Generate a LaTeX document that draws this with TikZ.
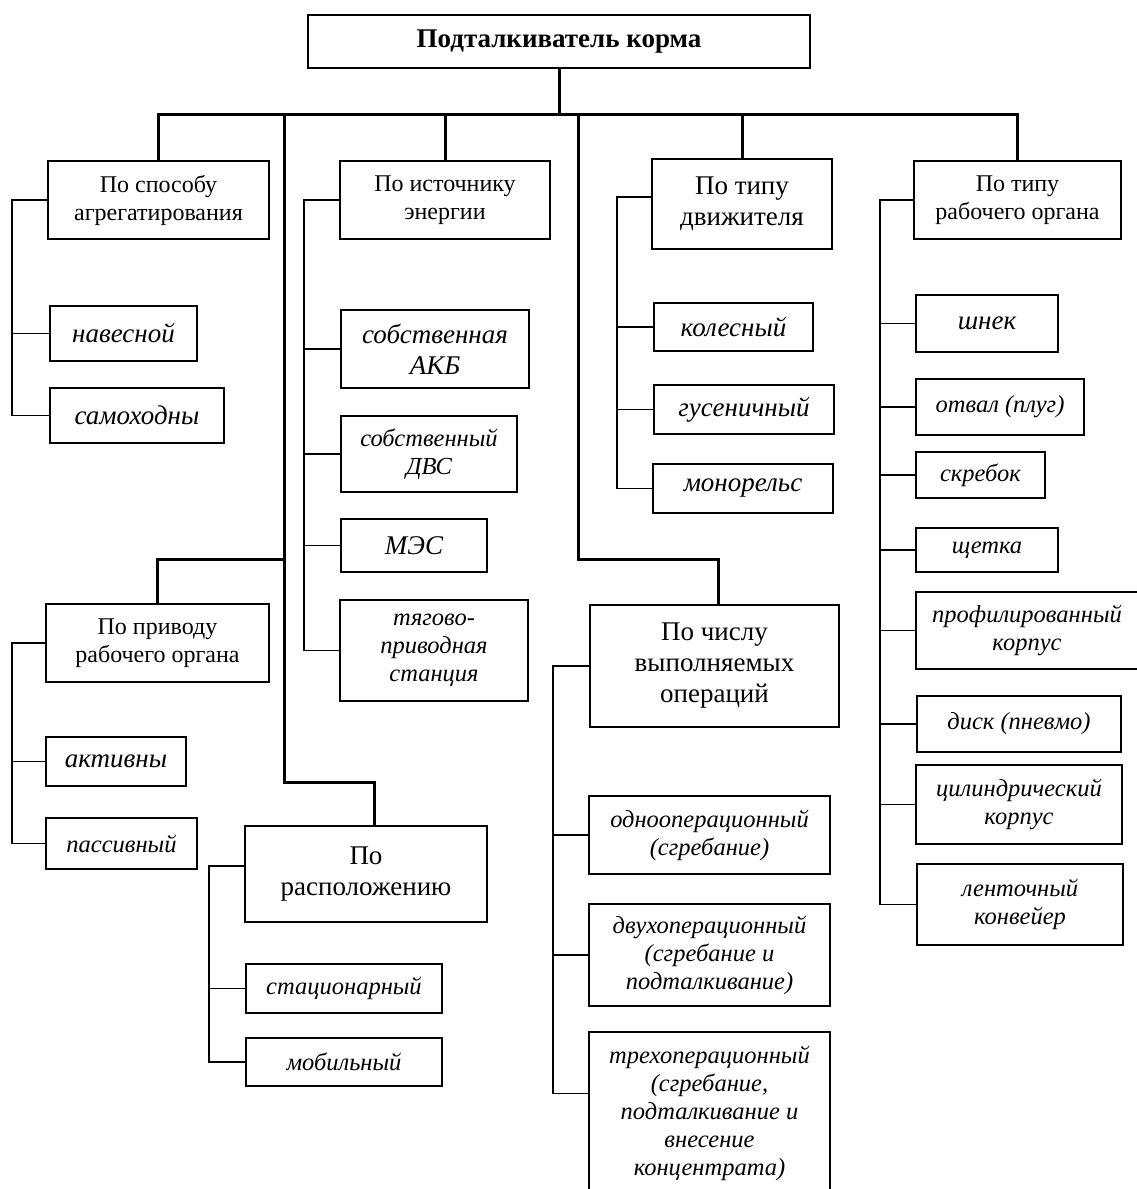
\documentclass[tikz,border=0pt]{standalone}
\usepackage{fontspec}
\setmainfont{Liberation Serif}
\begin{document}
\begin{tikzpicture}[x=1pt,y=-1pt,
  sz/.style 2 args={minimum width=#1pt, minimum height=#2pt},
  box/.style={draw, line width=1.6pt, inner sep=1pt, align=center, anchor=center},
  rootbox/.style={box, line width=2.8pt, font=\bfseries\fontsize{27}{31}\selectfont},
  head/.style={box, font=\fontsize{24}{28}\selectfont},
  bighead/.style={box, font=\fontsize{27}{31}\selectfont},
  leaf/.style={box, font=\itshape\fontsize{24.5}{28}\selectfont},
  bigleaf/.style={box, font=\itshape\fontsize{27}{31}\selectfont},
  trunk/.style={line width=3pt},
  twig/.style={line width=1.6pt}]
\useasboundingbox (0,0) rectangle (1136,1189);

% root and level-1
\node[rootbox, sz={502}{53}] (root) at (559,41.5) {Подталкиватель корма};
\node[head, sz={221}{78}] (A) at (158.5,200) {По способу\\агрегатирования};
\node[head, sz={210}{78}] (B) at (445,200) {По источнику\\энергии};
\node[bighead, sz={180}{90}] (C) at (742,204) {По типу\\движителя};
\node[head, sz={207}{78}] (D) at (1017.5,200) {По типу\\рабочего органа};

% level-2
\node[head, sz={223}{78}] (E) at (157.5,643) {По приводу\\рабочего органа};
\node[bighead, sz={242}{96}] (F) at (366,874) {По\\расположению};
\node[bighead, sz={249}{122}] (G) at (714.5,666) {По числу\\выполняемых\\операций};

% leaves A
\node[bigleaf, sz={147}{55}] (a1) at (123.5,333.5) {навесной};
\node[bigleaf, sz={174}{55}] (a2) at (137,415.5) {самоходны};
% leaves B
\node[bigleaf, sz={188}{78}] (b1) at (435,349) {собственная\\АКБ};
\node[leaf, sz={176}{76}] (b2) at (429,454) {собственный\\ДВС};
\node[bigleaf, sz={146}{53}] (b3) at (414,545.5) {МЭС};
\node[leaf, sz={188}{101}] (b4) at (434,650.5) {тягово-\\приводная\\станция};
% leaves C
\node[bigleaf, sz={159}{48}] (c1) at (733.5,327) {колесный};
\node[bigleaf, sz={180}{49}] (c2) at (744,409.5) {гусеничный};
\node[bigleaf, sz={180}{49}] (c3) at (743,488.5) {монорельс};
% leaves D
\node[bigleaf, sz={142}{57}] (d1) at (987,323.5) {шнек};
\node[leaf, sz={168}{56}] (d2) at (1000,407) {отвал (плуг)};
\node[leaf, sz={129}{46}] (d3) at (980.5,475) {скребок};
\node[leaf, sz={142}{44}] (d4) at (987,550) {щетка};
\node[leaf, sz={222}{77}] (d5) at (1027,630.5) {профилированный\\корпус};
\node[leaf, sz={204}{56}] (d6) at (1019,724) {диск (пневмо)};
\node[leaf, sz={206}{79}] (d7) at (1019,804.5) {цилиндрический\\корпус};
\node[leaf, sz={206}{81}] (d8) at (1020,904.5) {ленточный\\конвейер};
% leaves E
\node[bigleaf, sz={140}{49}] (e1) at (116,761.5) {активны};
\node[leaf, sz={151}{51}] (e2) at (121.5,843.5) {пассивный};
% leaves F
\node[leaf, sz={196}{49}] (f1) at (344,988.5) {стационарный};
\node[leaf, sz={196}{48}] (f2) at (344,1062) {мобильный};
% leaves G
\node[leaf, sz={241}{78}] (g1) at (709.5,835) {однооперационный\\(сгребание)};
\node[leaf, sz={241}{102}] (g2) at (709.5,955) {двухоперационный\\(сгребание и\\подталкивание)};
\node[leaf, sz={241}{163}] (g3) at (709.5,1113.5) {трехоперационный\\(сгребание,\\подталкивание и\\внесение\\концентрата)};

% trunk lines
\coordinate (bar) at (561,114);
\draw[trunk] (root.south) -- (root.south |- bar);
\draw[trunk] (A.north) -- (A.north |- bar) -- (D.north |- bar) -- (D.north);
\draw[trunk] (B.north) -- (B.north |- bar);
\draw[trunk] (C.north) -- (C.north |- bar);
\coordinate (l1top) at (284,114);
\coordinate (l1bend) at (284,782);
\coordinate (l1e) at (284,559);
\draw[trunk] (l1top) -- (l1bend) -| ([xshift=8pt]F.north);
\draw[trunk] (l1e) -| (E.north);
\coordinate (l2top) at (578,114);
\coordinate (l2bend) at (578,559);
\draw[trunk] (l2top) -- (l2bend) -| ([xshift=4pt]G.north);

% leaf connectors
\coordinate (av) at (12,0);
\draw[twig] (A.west) -- (A.west -| av) |- (a2.west);
\draw[twig] (av |- a1.west) -- (a1.west);

\coordinate (bv) at (304,0);
\draw[twig] (B.west) -- (B.west -| bv) |- (b4.west);
\foreach \n in {b1,b2,b3} \draw[twig] (bv |- \n.west) -- (\n.west);

\coordinate (cv) at (617,0);
\draw[twig] ([yshift=7pt]C.west) -- ([yshift=7pt]C.west -| cv) |- (c3.west);
\foreach \n in {c1,c2} \draw[twig] (cv |- \n.west) -- (\n.west);

\coordinate (dv) at (880,0);
\draw[twig] (D.west) -- (D.west -| dv) |- (d8.west);
\foreach \n in {d1,d2,d3,d4,d5,d6,d7} \draw[twig] (dv |- \n.west) -- (\n.west);

\coordinate (ev) at (12,0);
\draw[twig] (E.west) -- (E.west -| ev) |- (e2.west);
\draw[twig] (ev |- e1.west) -- (e1.west);

\coordinate (fv) at (209,0);
\draw[twig] ([yshift=8pt]F.west) -- ([yshift=8pt]F.west -| fv) |- (f2.west);
\draw[twig] (fv |- f1.west) -- (f1.west);

\coordinate (gv) at (553,0);
\draw[twig] (G.west) -- (G.west -| gv) |- ([yshift=20pt]g3.west);
\foreach \n in {g1,g2} \draw[twig] (gv |- \n.west) -- (\n.west);
\end{tikzpicture}
\end{document}
